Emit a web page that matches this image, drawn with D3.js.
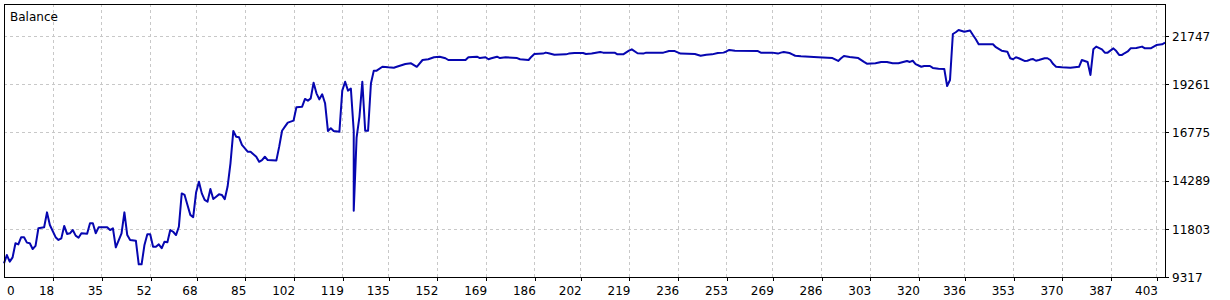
<!DOCTYPE html>
<html>
<head>
<meta charset="utf-8">
<script src="https://cdn.jsdelivr.net/npm/d3@7"></script>
<style>
  body { margin: 0; background: #fff; }
  svg { display: block; font-family: "DejaVu Sans", sans-serif; }
</style>
</head>
<body>
<svg id="chart" width="1230" height="300"></svg>
<script>
// data (trade number -> balance)
const tradeIndex = [1,2,3,4,5,6,7,8,9,10,11,12,13,15,16,17,19,20,21,22,23,24,25,26,27,28,30,31,32,33,34,37,38,39,40,42,43,44,45,47,48,49,50,51,52,53,54,55,56,57,58,59,60,61,62,63,64,65,66,67,68,69,70,71,72,73,74,75,76,77,78,79,80,81,82,83,84,86,87,89,90,91,92,93,96,97,98,99,100,102,103,105,106,107,108,109,110,111,112,113,114,115,116,118,119,120,121,122,123,123,124,125,126,127,128,129,130,131,133,135,137,138,141,143,145,147,149,151,153,155,156,162,163,166,167,169,170,171,173,174,176,180,181,184,185,186,189,190,191,193,197,198,200,203,204,206,209,210,214,215,217,219,220,222,224,225,231,233,235,237,242,244,246,248,250,252,253,254,256,264,265,269,271,272,273,275,276,277,279,285,290,292,293,294,296,299,301,302,305,307,309,311,313,316,317,318,319,321,322,324,325,327,329,330,331,332,333,334,336,338,339,340,341,346,347,349,351,352,353,354,355,357,358,359,360,361,362,364,365,366,367,368,370,373,376,377,379,380,381,382,384,385,386,388,389,390,391,392,393,394,396,398,399,401,403,405,406];
const balance = [10020,10450,10110,10330,11060,11000,11370,11370,11090,11060,10760,10920,11830,11880,12650,12000,11370,11230,11310,11950,11540,11570,11740,11450,11340,11570,11550,12090,12090,11570,11880,11880,11740,11830,10850,11570,12650,11480,11230,11190,9970,9970,10970,11520,11520,10880,10880,11000,10800,11140,11110,11740,11650,11480,11910,13630,13550,13030,12520,12400,13670,14230,13630,13290,13200,13860,13340,13460,13580,13550,13330,13980,15180,16850,16550,16520,16130,15780,15780,15520,15260,15350,15520,15350,15320,16040,16860,17070,17280,17380,18070,18100,18500,18410,18530,19340,18790,18480,18740,18280,16850,16990,16850,16810,18930,19390,18930,19040,16850,12740,16510,17590,19390,16860,16860,19300,19960,19960,20160,20130,20110,20160,20300,20340,20160,20510,20550,20650,20680,20600,20510,20510,20650,20680,20610,20650,20550,20600,20680,20610,20650,20610,20550,20510,20680,20820,20840,20890,20860,20780,20800,20840,20870,20870,20820,20840,20920,20890,20890,20800,20800,20990,21060,20860,20840,20890,20890,20970,20970,20840,20820,20730,20780,20800,20870,20890,20950,21030,20990,20970,20890,20890,20840,20890,20920,20870,20800,20730,20700,20650,20610,20460,20600,20720,20670,20610,20410,20320,20340,20410,20410,20340,20340,20460,20410,20470,20300,20160,20200,20200,20100,20060,20050,19170,19480,21850,21940,22060,21970,22030,21800,21580,21320,21320,21170,20990,20940,20600,20550,20650,20600,20460,20470,20530,20560,20470,20510,20600,20600,20510,20300,20160,20130,20110,20160,20510,20410,19740,21060,21200,21060,20890,20890,21110,20970,20770,20770,20870,20950,21110,21130,21200,21110,21110,21280,21320,21400];

const xTickLabels = [0,18,35,52,68,85,102,119,135,152,169,186,202,219,236,253,269,286,303,320,336,353,370,387,403];
const yTickLabels = [9317,11803,14289,16775,19261,21747];
const title = "Balance";

const data = tradeIndex.map((t, i) => ({ t, v: balance[i] }));

const svg = d3.select("#chart");

// plot frame
const frame = { left: 4, top: 4, right: 1165, bottom: 277 };

const xScale = d3.scaleLinear()
  .domain([1, 406])
  .range([frame.left, frame.right]);

const yScale = d3.scaleLinear()
  .domain([9317, 23398])
  .range([frame.bottom, frame.top]);

// grid
const grid = svg.append("g").attr("class", "grid")
  .attr("stroke", "#c8c8c8")
  .attr("stroke-dasharray", "3,3")
  .attr("shape-rendering", "crispEdges");

grid.selectAll(".hgrid")
  .data(yTickLabels.slice(1))
  .join("line")
    .attr("class", "hgrid")
    .attr("x1", frame.left)
    .attr("x2", frame.right)
    .attr("y1", d => Math.round(yScale(d)) + 0.5)
    .attr("y2", d => Math.round(yScale(d)) + 0.5);

grid.selectAll(".vgrid")
  .data(xTickLabels.slice(1))
  .join("line")
    .attr("class", "vgrid")
    .attr("x1", d => Math.round(xScale(d)) + 0.5)
    .attr("x2", d => Math.round(xScale(d)) + 0.5)
    .attr("y1", frame.top)
    .attr("y2", frame.bottom);

// axes
const xAxis = d3.axisBottom(xScale)
  .tickValues(xTickLabels.slice(1))
  .tickSize(4)
  .tickSizeOuter(0)
  .tickFormat(d3.format("d"));

const gx = svg.append("g")
  .attr("transform", `translate(0,${frame.bottom})`)
  .call(xAxis);
gx.select(".domain").remove();
gx.selectAll(".tick line").attr("stroke", "#000").attr("shape-rendering", "crispEdges")
  .attr("transform", "translate(0.5,0)");
gx.selectAll(".tick text")
  .attr("text-anchor", "end")
  .attr("x", 1)
  .attr("y", 18)
  .attr("dy", 0)
  .attr("font-size", 12)
  .attr("font-family", "DejaVu Sans, sans-serif")
  .attr("fill", "#000");

// first label sits inside the frame
svg.append("text")
  .attr("x", frame.left + 3)
  .attr("y", frame.bottom + 18)
  .attr("font-size", 12)
  .attr("fill", "#000")
  .text(xTickLabels[0]);

const yAxis = d3.axisRight(yScale)
  .tickValues(yTickLabels)
  .tickSize(4)
  .tickSizeOuter(0)
  .tickFormat(d3.format("d"));

const gy = svg.append("g")
  .attr("transform", `translate(${frame.right},0)`)
  .call(yAxis);
gy.select(".domain").remove();
gy.selectAll(".tick line").attr("stroke", "#000").attr("shape-rendering", "crispEdges");
gy.selectAll(".tick text")
  .attr("x", 7)
  .attr("dy", "0.35em")
  .attr("font-size", 12)
  .attr("font-family", "DejaVu Sans, sans-serif")
  .attr("fill", "#000");

// balance line
const balanceLine = d3.line()
  .x(d => xScale(d.t))
  .y(d => yScale(d.v));

svg.append("path")
  .datum(data)
  .attr("fill", "none")
  .attr("stroke", "#0606b0")
  .attr("stroke-width", 2)
  .attr("stroke-linejoin", "round")
  .attr("d", balanceLine);

// frame border
svg.append("rect")
  .attr("x", frame.left + 0.5)
  .attr("y", frame.top + 0.5)
  .attr("width", frame.right - frame.left)
  .attr("height", frame.bottom - frame.top)
  .attr("fill", "none")
  .attr("stroke", "#000")
  .attr("shape-rendering", "crispEdges");

svg.append("text")
  .attr("x", 10)
  .attr("y", 21)
  .attr("font-size", 12)
  .attr("fill", "#000")
  .text(title);
</script>
</body>
</html>
